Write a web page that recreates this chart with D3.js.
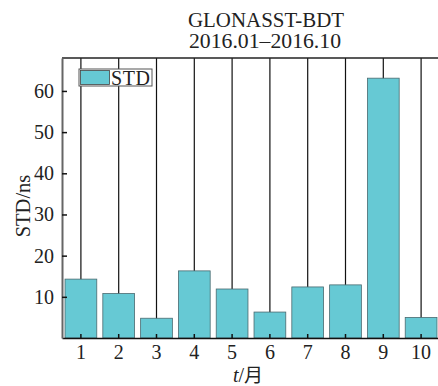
<!DOCTYPE html>
<html>
<head>
<meta charset="utf-8" />
<title>GLONASST-BDT STD</title>
<style>
    body { margin: 0; background: #fff; }
    svg text { font-family: 'Liberation Serif', 'Times New Roman', serif; fill: #222; }
</style>
</head>
<body>
<div id="chart"></div>
<script src="https://d3js.org/d3.v7.min.js"></script>
<script>
    // data
    var months = ["1", "2", "3", "4", "5", "6", "7", "8", "9", "10"]
    var stdValues = [14.3, 10.8, 4.8, 16.3, 11.9, 6.3, 12.4, 12.9, 63.1, 5.0]
    var yTicks = [10, 20, 30, 40, 50, 60]

    var width = 438, height = 386
    var margin = { top: 58, right: -2, bottom: 48, left: 62 }
    var fs = "20px"

    var svg = d3.select("#chart").append("svg")
        .attr("width", width)
        .attr("height", height)

    var x = d3.scaleBand()
        .domain(months)
        .range([margin.left, width - margin.right])
        .paddingInner(0.16)
        .paddingOuter(0.08)

    var y = d3.scaleLinear()
        .domain([0, 68])
        .range([height - margin.bottom, margin.top])

    // vertical lines from each category up to the top frame
    svg.append("g")
        .selectAll("line")
        .data(months)
        .enter().append("line")
        .attr("x1", function(d) { return x(d) + x.bandwidth() / 2 })
        .attr("x2", function(d) { return x(d) + x.bandwidth() / 2 })
        .attr("y1", y(0))
        .attr("y2", margin.top)
        .attr("stroke", "#111")
        .attr("stroke-width", 1.2)

    // bars
    svg.append("g")
        .selectAll("rect")
        .data(stdValues)
        .enter().append("rect")
        .attr("x", function(d, i) { return x(months[i]) })
        .attr("width", x.bandwidth())
        .attr("y", function(d) { return y(d) })
        .attr("height", function(d) { return y(0) - y(d) })
        .attr("fill", "#66c9d4")
        .attr("stroke", "#4a6a70")
        .attr("stroke-width", 0.8)

    // top frame line
    svg.append("line")
        .attr("x1", margin.left).attr("x2", width)
        .attr("y1", margin.top).attr("y2", margin.top)
        .attr("stroke", "#222").attr("stroke-width", 1.5)

    // x axis (ticks pointing inward)
    var xAxis = svg.append("g")
        .attr("transform", "translate(0," + y(0) + ")")
        .call(d3.axisBottom(x).tickSize(-4).tickSizeOuter(0).tickPadding(7))
    xAxis.select(".domain").attr("stroke", "#111").attr("stroke-width", 1.5)
    xAxis.selectAll(".tick line").attr("stroke", "#111").attr("stroke-width", 1.5)
    xAxis.selectAll("text").style("font-size", fs).attr("fill", "#222")

    // y axis (ticks pointing inward)
    var yAxis = svg.append("g")
        .attr("transform", "translate(" + margin.left + ",0)")
        .call(d3.axisLeft(y).tickValues(yTicks).tickSize(-5).tickSizeOuter(0).tickPadding(8))
    yAxis.select(".domain").attr("stroke", "#666").attr("stroke-width", 2)
    yAxis.selectAll(".tick line").attr("stroke", "#111").attr("stroke-width", 1.5)
    yAxis.selectAll("text").style("font-size", fs).attr("fill", "#222")

    // titles
    svg.append("text")
        .attr("x", 188).attr("y", 27)
        .style("font-size", "20px")
        .attr("textLength", 156)
        .attr("lengthAdjust", "spacingAndGlyphs")
        .text("GLONASST-BDT")
    svg.append("text")
        .attr("x", 189).attr("y", 48)
        .style("font-size", "20px")
        .attr("textLength", 152)
        .attr("lengthAdjust", "spacingAndGlyphs")
        .text("2016.01\u20132016.10")

    // axis labels
    svg.append("text")
        .attr("transform", "translate(30,206) rotate(-90)")
        .attr("text-anchor", "middle")
        .style("font-size", "20.5px")
        .text("STD/ns")

    var xl = svg.append("text")
        .attr("x", 248).attr("y", 382)
        .attr("text-anchor", "middle")
        .style("font-size", fs)
    xl.append("tspan").style("font-style", "italic").text("t")
    xl.append("tspan").text("/")
    xl.append("tspan").style("font-family", "'Noto Sans CJK SC', sans-serif").style("font-size", "19px").text("月")

    // legend
    var lg = svg.append("g").attr("transform", "translate(79,69)")
    lg.append("rect")
        .attr("width", 73).attr("height", 17)
        .attr("fill", "#fff").attr("stroke", "#555").attr("stroke-width", 1)
    lg.append("rect")
        .attr("x", 1.5).attr("y", 1.5).attr("width", 29).attr("height", 14)
        .attr("fill", "#66c9d4").attr("stroke", "#444").attr("stroke-width", 0.8)
    lg.append("text")
        .attr("x", 32).attr("y", 15.5)
        .style("font-size", "20px")
        .attr("textLength", 39)
        .text("STD")
</script>
</body>
</html>
